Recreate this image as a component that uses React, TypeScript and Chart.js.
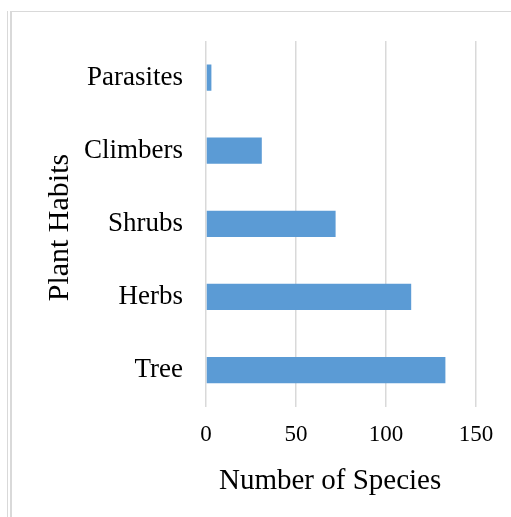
import React, { useEffect, useRef } from "react";
import { Chart, registerables } from "chart.js";

Chart.register(...registerables);

const categories = ["Parasites", "Climbers", "Shrubs", "Herbs", "Tree"];
const speciesCounts = [3, 31, 72, 114, 133];
const xTicks = [0, 50, 100, 150];

const FONT = "'Liberation Serif', 'Times New Roman', serif";

export default function App() {
  const ref = useRef<HTMLCanvasElement | null>(null);

  useEffect(() => {
    if (!ref.current) return;
    const chart = new Chart(ref.current, {
      type: "bar",
      data: {
        labels: categories,
        datasets: [
          {
            data: speciesCounts,
            backgroundColor: "#5B9BD5",
            borderWidth: 0,
            barPercentage: 0.36,
            categoryPercentage: 1,
          },
        ],
      },
      options: {
        indexAxis: "y",
        animation: false,
        responsive: false,
        maintainAspectRatio: false,
        layout: { padding: { left: 42, top: 41, right: 35, bottom: 18 } },
        plugins: { legend: { display: false }, tooltip: { enabled: false } },
        scales: {
          x: {
            min: 0,
            max: 150,
            afterBuildTicks: (s: any) => {
              s.ticks = xTicks.map((v) => ({ value: v }));
            },
            grid: { color: "#d9d9d9", lineWidth: 1.5, drawTicks: false },
            border: { display: false },
            ticks: { color: "#000", padding: 15, font: { family: FONT, size: 23 } },
            title: {
              display: true,
              text: "Number of Species\u00a0\u00a0\u00a0",
              color: "#000",
              font: { family: FONT, size: 29 },
              padding: { top: 0, bottom: 0 },
            },
          },
          y: {
            grid: { display: false, drawTicks: false },
            border: { display: false },
            ticks: { color: "#000", padding: 23, font: { family: FONT, size: 27 } },
            title: {
              display: true,
              text: "Plant Habits\u00a0",
              color: "#000",
              font: { family: FONT, size: 30 },
              padding: { top: 0, bottom: -17 },
            },
          },
        },
      },
    });
    return () => chart.destroy();
  }, []);

  return (
    <div style={{ position: "fixed", left: 0, top: 0, width: 511, height: 517, background: "#fff" }}>
      <div style={{ position: "absolute", left: 10, top: 11, width: 501, height: 1, background: "#d9d9d9" }} />
      <div style={{ position: "absolute", left: 7, top: 11, width: 1, height: 506, background: "#d9d9d9" }} />
      <div style={{ position: "absolute", left: 10, top: 11, width: 2, height: 506, background: "#d9d9d9" }} />
      <canvas ref={ref} width={511} height={517} style={{ position: "absolute", left: 0, top: 0 }} />
    </div>
  );
}
